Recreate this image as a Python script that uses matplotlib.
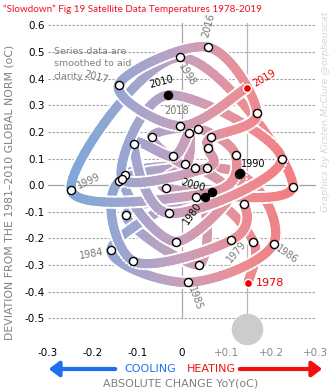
import numpy as np
import matplotlib
matplotlib.use("Agg")
import matplotlib.pyplot as plt
from matplotlib.collections import LineCollection
from matplotlib.colors import LinearSegmentedColormap, Normalize

# yearly values
years = list(range(1978, 2020))
anomaly = [-0.367, -0.212, -0.046, -0.113, -0.298, -0.046, -0.242, -0.365, -0.220, 0.042,
           0.038, -0.212, 0.044, 0.015, -0.285, -0.207, -0.069, 0.066, -0.011, -0.006,
           0.480, -0.019, -0.026, 0.112, 0.212, 0.182, 0.079, 0.197, 0.108, 0.154,
           -0.106, 0.098, 0.338, 0.025, 0.066, 0.139, 0.179, 0.270, 0.518, 0.376,
           0.223, 0.366]
change = [0.148, 0.160, 0.052, -0.125, 0.037, 0.032, -0.159, 0.013, 0.205, 0.128,
          -0.127, -0.013, 0.130, -0.140, -0.109, 0.110, 0.138, 0.028, -0.035, 0.248,
          -0.004, -0.248, 0.068, 0.120, 0.036, -0.068, 0.007, 0.016, -0.020, -0.107,
          -0.029, 0.223, -0.032, -0.134, 0.057, 0.059, 0.066, 0.168, 0.0575, -0.142,
          -0.004, 0.145]
black_years = [1980, 1990, 2000, 2010]
red_years = [1978, 2019]
ytick_vals = [0.6, 0.5, 0.4, 0.3, 0.2, 0.1, 0.0, -0.1, -0.2, -0.3, -0.4, -0.5]
xtick_vals = [-0.3, -0.2, -0.1, 0, 0.1, 0.2, 0.3]
xtick_labels = ["-0.3", "-0.2", "-0.1", "0", "+0.1", "+0.2", "+0.3"]
marker_x = 0.145

W, H = 333, 392
fig = plt.figure(figsize=(W / 100, H / 100), dpi=100)
ax = fig.add_axes([48 / W, 1 - 345 / H, 268 / W, 325 / H])
ax.set_xlim(-0.3, 0.3)
ax.set_ylim(-0.6, 0.62)
for s in ax.spines.values():
    s.set_visible(False)

def ftext(px, py, s, **kw):
    fig.text(px / W, 1 - py / H, s, **kw)

# grid
for v in ytick_vals:
    if v == 0:
        ax.plot([-0.3, 0.3], [0, 0], color="#a0a0a0", lw=0.9, zorder=1)
    else:
        ax.plot([-0.3, 0.3], [v, v], color="#9a9a9a", lw=0.8, ls=(0, (2, 1.6)), zorder=1)
ax.plot([0, 0], [-0.5, 0.61], color="#a8a8a8", lw=0.9, zorder=1)
ax.plot([marker_x, marker_x], [-0.52, 0.61], color="#b8b8b8", lw=0.9, zorder=1)
ax.scatter([marker_x], [-0.54], s=470, color="#cccccc", zorder=2, clip_on=False)

# smoothed path (Catmull-Rom through the yearly points)
P = np.column_stack([change, anomaly])
Pp = np.vstack([P[0], P, P[-1]])
t = np.linspace(0, 1, 25)[:, None]
chunks = []
for i in range(len(P) - 1):
    p0, p1, p2, p3 = Pp[i], Pp[i + 1], Pp[i + 2], Pp[i + 3]
    c = 0.5 * (2 * p1 + (-p0 + p2) * t + (2 * p0 - 5 * p1 + 4 * p2 - p3) * t ** 2
               + (-p0 + 3 * p1 - 3 * p2 + p3) * t ** 3)
    chunks.append(c)

cmap = LinearSegmentedColormap.from_list(
    "cr", ["#7ea7d8", "#9aa6d0", "#c6a0bc", "#e98f98", "#f37d7f"])
norm = Normalize(-0.25, 0.25)
z = 3
for c in chunks:
    segs = np.stack([c[:-1], c[1:]], axis=1)
    mid = (c[:-1, 0] + c[1:, 0]) / 2
    lw_white = LineCollection(segs, colors="white", linewidths=9.5, capstyle="butt",
                              zorder=z, clip_on=False)
    lc = LineCollection(segs, cmap=cmap, norm=norm, linewidths=6.6, capstyle="round",
                        zorder=z + 0.5, clip_on=False)
    lc.set_array(mid)
    ax.add_collection(lw_white)
    ax.add_collection(lc)
    z += 1

# points
for yr, xv, yv in zip(years, change, anomaly):
    if yr in black_years:
        fc, ec = "black", "black"
    elif yr in red_years:
        fc, ec = "#ee0000", "white"
    else:
        fc, ec = "white", "black"
    ax.scatter([xv], [yv], s=34, facecolor=fc, edgecolor=ec, linewidth=1.0,
               zorder=200 + (yr in black_years), clip_on=False)

# ticks
ax.set_yticks(ytick_vals)
ax.set_yticklabels([f"{v:.1f}" for v in ytick_vals], fontsize=7.5)
ax.set_xticks(xtick_vals)
ax.set_xticklabels(xtick_labels, fontsize=7.5)
ax.tick_params(length=0, pad=2)
for lab in ax.get_xticklabels():
    lab.set_color("#888888" if lab.get_text().startswith("+") else "black")

# year labels
g = "#777777"
ftext(209, 25, "2016", rotation=75, color=g, fontsize=7, ha="center", va="center")
ftext(187, 75, "1998", rotation=-58, color=g, fontsize=7, ha="center", va="center")
ftext(96, 77, "2017", rotation=-15, color=g, fontsize=7, ha="center", va="center")
ftext(161, 82, "2010", rotation=15, color="black", fontsize=7, ha="center", va="center")
ftext(177, 111, "2018", color=g, fontsize=7, ha="center", va="center")
ftext(264, 78, "2019", rotation=30, color="#ee0000", fontsize=7, ha="center", va="center")
ftext(253, 164, "1990", color="black", fontsize=7, ha="center", va="center")
ftext(193, 185, "2000", rotation=-15, color="black", fontsize=7, ha="center", va="center")
ftext(193, 213, "1980", rotation=55, color="black", fontsize=7, ha="center", va="center")
ftext(89, 181, "1999", rotation=25, color=g, fontsize=7, ha="center", va="center")
ftext(91, 254, "1984", rotation=10, color=g, fontsize=7, ha="center", va="center")
ftext(237, 252, "1979", rotation=50, color=g, fontsize=7, ha="center", va="center")
ftext(287, 255, "1986", rotation=-35, color=g, fontsize=7, ha="center", va="center")
ftext(256, 283, "1978", color="#ee0000", fontsize=8, ha="left", va="center")
ftext(195, 299, "1985", rotation=-70, color=g, fontsize=7, ha="center", va="center")

# notes and titles
ftext(54, 47, "Series data are\nsmoothed to aid\nclarity", color="#808080", fontsize=6.8,
      ha="left", va="top", linespacing=1.5)
ftext(3, 9, "\u201cSlowdown\u201d Fig 19 Satellite Data Temperatures 1978-2019",
      color="#ee1122", fontsize=7.1, ha="left", va="center", family="Lato")
ftext(10, 192, "DEVIATION FROM THE 1981\u20132010 GLOBAL NORM (oC)", rotation=90,
      color="#808080", fontsize=7.8, ha="center", va="center")
ftext(326, 112, "Graphics by Kirsten McClure @orpheuscat", rotation=90, color="#d6d6d6",
      fontsize=6.8, style="italic", ha="center", va="center")

# bottom legend arrows
ax.annotate("", xy=(46 / W, 1 - 369 / H), xytext=(118 / W, 1 - 369 / H),
            xycoords="figure fraction", textcoords="figure fraction",
            arrowprops=dict(arrowstyle="-|>,head_length=0.6,head_width=0.45",
                            color="#1f6ff2", lw=3))
ax.annotate("", xy=(325 / W, 1 - 369 / H), xytext=(237 / W, 1 - 369 / H),
            xycoords="figure fraction", textcoords="figure fraction",
            arrowprops=dict(arrowstyle="-|>,head_length=0.6,head_width=0.45",
                            color="#ee1111", lw=3))
ftext(150, 369, "COOLING", color="#1f6ff2", fontsize=8, ha="center", va="center")
ftext(211, 369, "HEATING", color="#ee1111", fontsize=8, ha="center", va="center")
ftext(181, 383, "ABSOLUTE CHANGE YoY(oC)", color="#808080", fontsize=8, ha="center",
      va="center")

fig.savefig("out.png", dpi=100)
